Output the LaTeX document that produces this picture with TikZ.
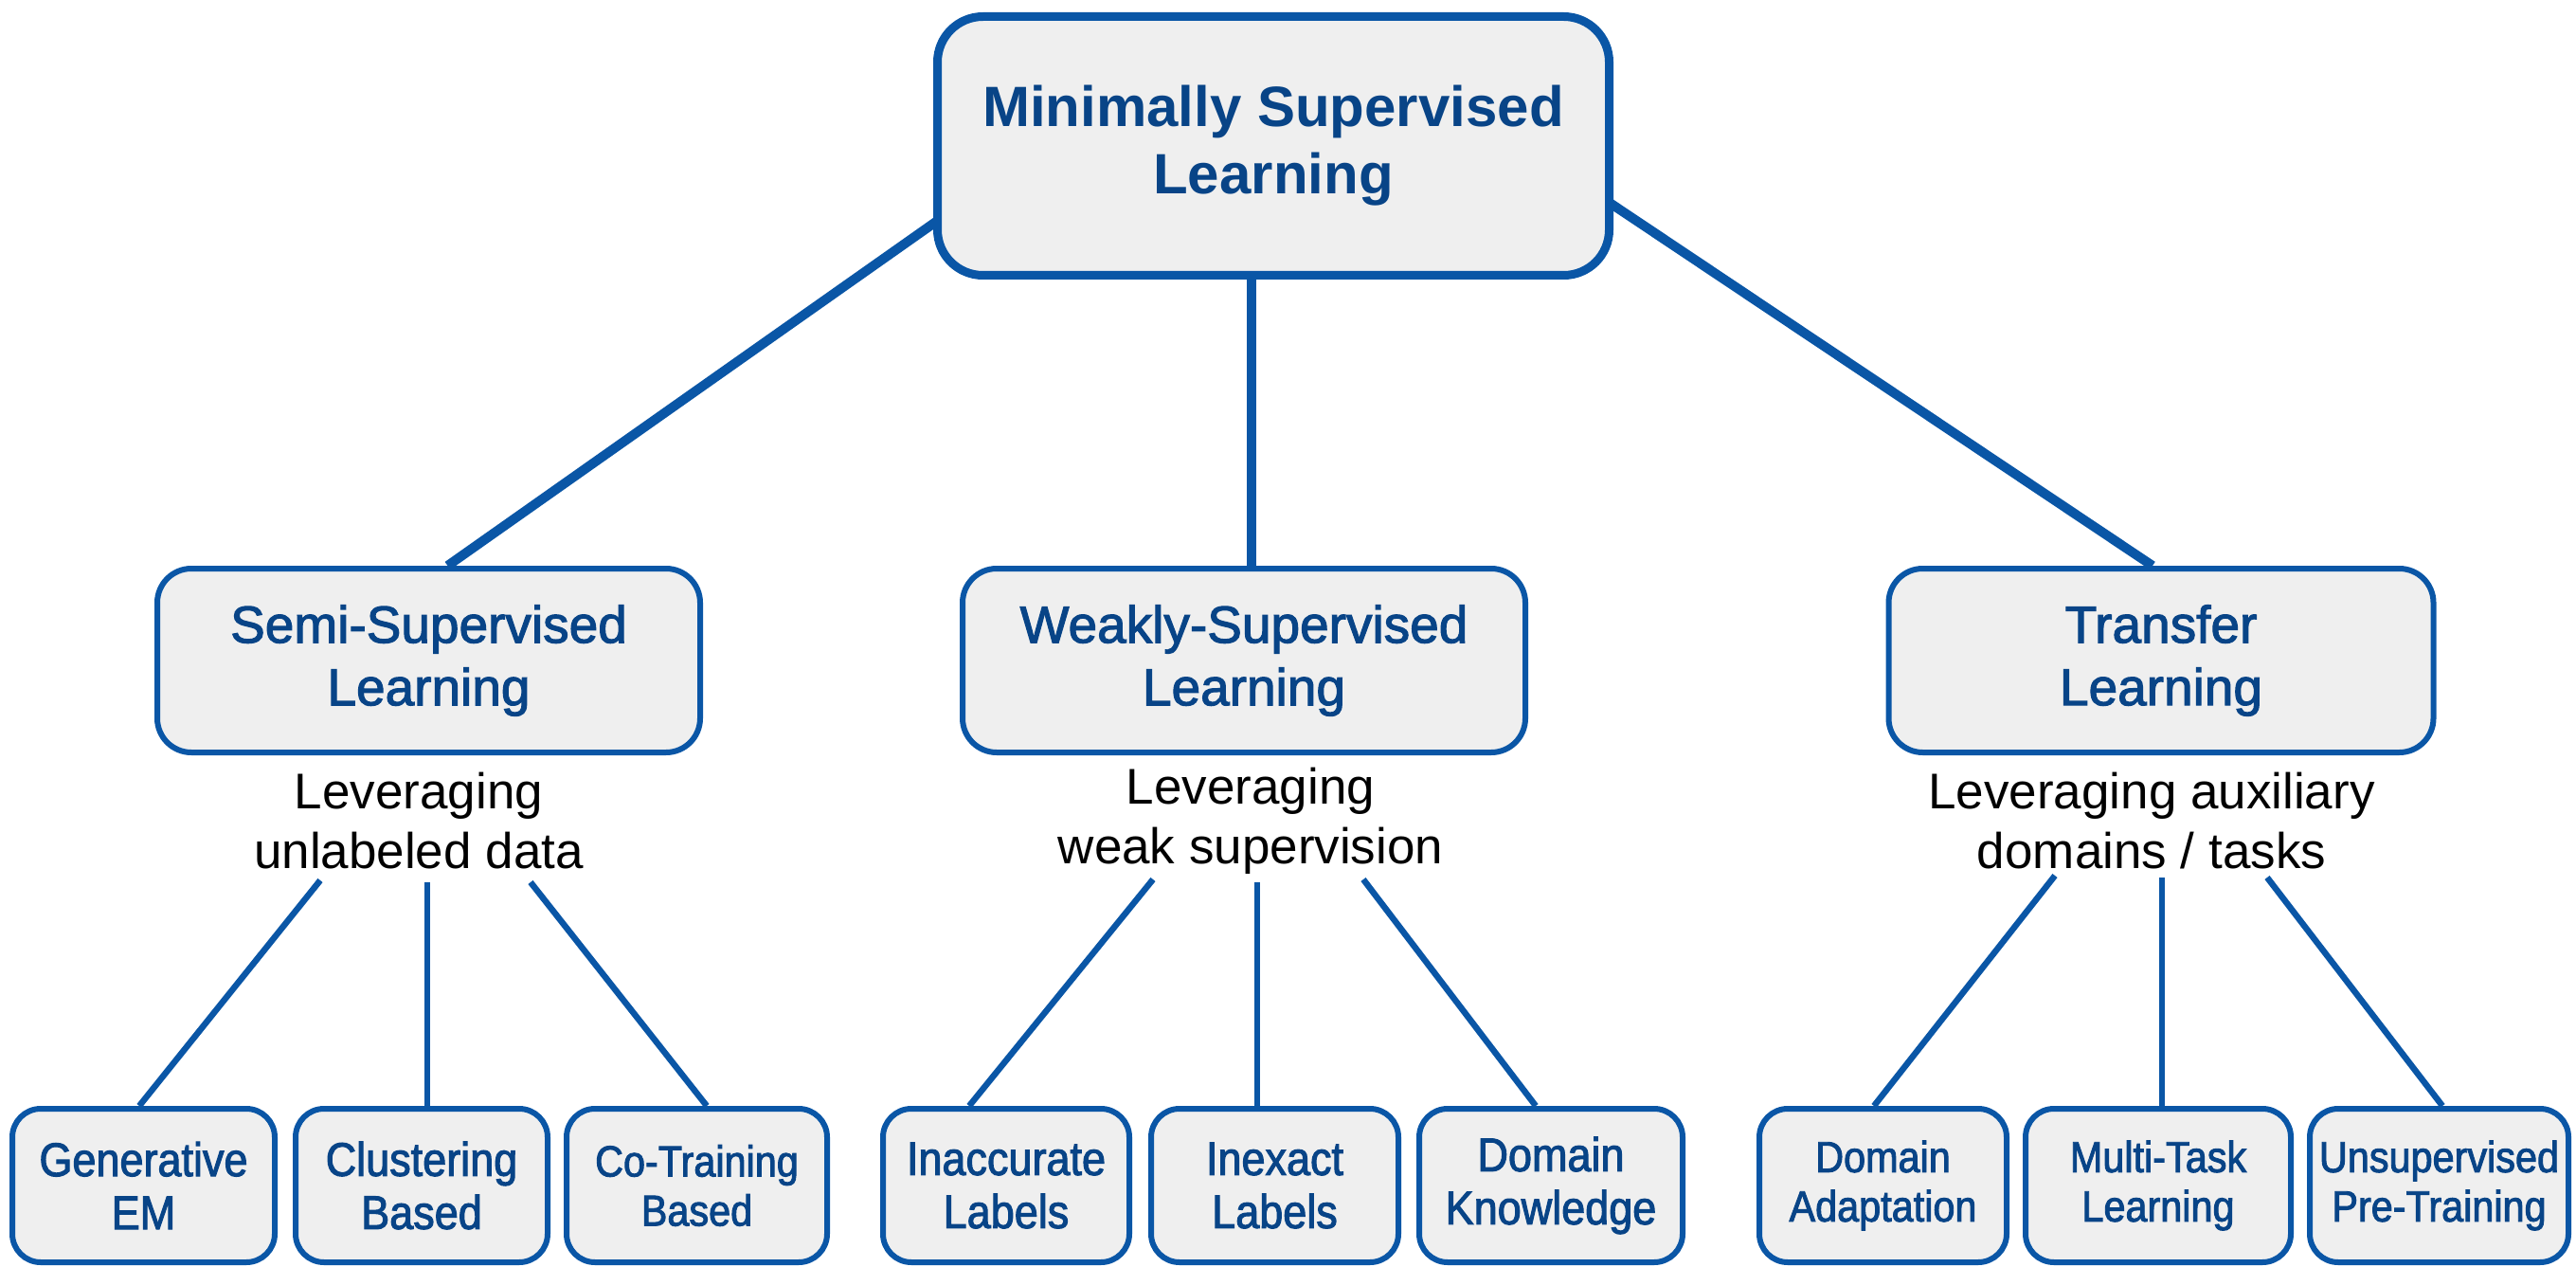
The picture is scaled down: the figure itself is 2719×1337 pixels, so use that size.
\documentclass[tikz,border=0pt]{standalone}
\usepackage{fontspec}
\setmainfont{Liberation Sans}
\newfontfamily\medfont[FakeBold=2]{Liberation Sans}
\newfontfamily\leaffont[FakeBold=2,FakeStretch=0.9]{Liberation Sans}
\usetikzlibrary{backgrounds}

\definecolor{edgeblue}{RGB}{10,86,166}
\definecolor{textblue}{RGB}{8,68,135}
\definecolor{boxfill}{RGB}{239,239,239}

\tikzset{
  rootbox/.style={draw=edgeblue, fill=boxfill, line width=9pt, rounded corners=48pt,
    minimum width=709pt, minimum height=273pt, inner sep=0pt, align=center,
    text=textblue, font=\bfseries\fontsize{60}{71}\selectfont},
  branchbox/.style={draw=edgeblue, fill=boxfill, line width=6pt, rounded corners=36pt,
    minimum height=194pt, inner sep=0pt, align=center,
    text=textblue, font=\medfont\fontsize{55}{66}\selectfont},
  leafbox/.style={draw=edgeblue, fill=boxfill, line width=6pt, rounded corners=30pt,
    minimum height=162pt, inner sep=0pt, align=center,
    text=textblue, font=\leaffont\fontsize{50}{56}\selectfont},
  smallleaf/.style={leafbox, font=\leaffont\fontsize{46}{52}\selectfont},
  note/.style={align=center, inner sep=0pt, text=black, font=\fontsize{53}{63}\selectfont},
  trunk/.style={draw=edgeblue, line width=10pt},
  twig/.style={draw=edgeblue, line width=6.5pt}
}

\begin{document}
\begin{tikzpicture}[x=1pt, y=-1pt]
\useasboundingbox (0,0) rectangle (2719,1337);

% root
\node[rootbox] (root) at (1344,154) {Minimally Supervised\\Learning};

% second level
\node[branchbox, minimum width=573pt] (semi) at (452.5,697) {Semi-Supervised\\Learning};
\node[branchbox, minimum width=594pt] (weak) at (1313,697) {Weakly-Supervised\\Learning};
\node[branchbox, minimum width=575pt] (trans) at (2281,697) {Transfer\\Learning};

% descriptions
\node[note] (nsemi) at (442,866) {Leveraging\\unlabeled data};
\node[note] (nweak) at (1320,866) {Leveraging\\weak supervision};
\node[note] (ntrans) at (2271,866) {Leveraging auxiliary\\domains / tasks};

% leaves
\node[leafbox, minimum width=277pt] (l1) at (151.5,1251) {Generative\\EM};
\node[leafbox, minimum width=266pt] (l2) at (445,1251) {Clustering\\Based};
\node[smallleaf, minimum width=275pt] (l3) at (735.5,1251) {Co-Training\\Based};
\node[leafbox, minimum width=260pt] (l4) at (1062,1251) {Inaccurate\\Labels};
\node[leafbox, minimum width=261pt] (l5) at (1345.5,1251) {Inexact\\Labels};
\node[leafbox, minimum width=278pt] (l6) at (1637,1251) {Domain\\Knowledge};
\node[smallleaf, minimum width=261pt] (l7) at (1987.5,1251) {Domain\\Adaptation};
\node[smallleaf, minimum width=280pt] (l8) at (2278,1251) {Multi-Task\\Learning};
\node[smallleaf, minimum width=273pt] (l9) at (2574.5,1251) {Unsupervised\\Pre-Training};

% free ends of the lower connectors
\coordinate (s1) at (338,929);
\coordinate (s2) at (451,931);
\coordinate (s3) at (560,931);
\coordinate (w1) at (1217,928);
\coordinate (w2) at (1327,931);
\coordinate (w3) at (1439,928);
\coordinate (t1) at (2169,924);
\coordinate (t2) at (2282,926);
\coordinate (t3) at (2393,926);

\begin{scope}[on background layer]
  \draw[trunk] ([xshift=10pt,yshift=-75pt]root.west) -- ([xshift=20pt]semi.north);
  \draw[trunk] ([xshift=-23pt,yshift=10pt]root.south) -- ([xshift=8pt,yshift=-5pt]weak.north);
  \draw[trunk] ([xshift=-10pt,yshift=-56pt]root.east) -- ([xshift=-9pt]trans.north);

  \draw[twig] (s1) -- ([xshift=-4.5pt]l1.north);
  \draw[twig] (s2) -- ([xshift=6pt]l2.north);
  \draw[twig] (s3) -- ([xshift=10.5pt]l3.north);
  \draw[twig] (w1) -- ([xshift=-39pt]l4.north);
  \draw[twig] (w2) -- ([xshift=-18.5pt]l5.north);
  \draw[twig] (w3) -- ([xshift=-16pt]l6.north);
  \draw[twig] (t1) -- ([xshift=-9.5pt]l7.north);
  \draw[twig] (t2) -- ([xshift=4pt]l8.north);
  \draw[twig] (t3) -- ([xshift=3.5pt]l9.north);
\end{scope}
\end{tikzpicture}
\end{document}
